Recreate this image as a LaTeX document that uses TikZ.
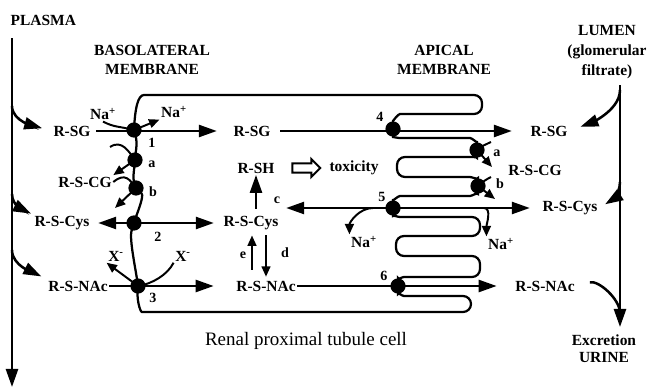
\documentclass[tikz,border=0pt]{standalone}
\usepackage{fontspec}
\setmainfont{Liberation Serif}
\usetikzlibrary{arrows.meta, shapes.arrows, calc}

\begin{document}
\begin{tikzpicture}[x=0.025cm, y=-0.025cm,
    lbl/.style={font=\bfseries\fontsize{11}{14}\selectfont, inner sep=1pt, align=center},
    tag/.style={font=\bfseries\fontsize{10}{12}\selectfont, inner sep=0pt},
    flow/.style={line width=1.8pt, -{Triangle[length=4.5mm, width=3mm]}},
    twoway/.style={line width=1.8pt, {Triangle[length=4.5mm, width=3mm]}-{Triangle[length=4.5mm, width=3mm]}},
    smallflow/.style={line width=1.4pt, -{Triangle[length=2.6mm, width=2.2mm]}},
    wire/.style={line width=1.4pt},
    membrane/.style={line width=1.6pt, rounded corners=2mm},
    pump/.style={fill=black}]

    \useasboundingbox (0,0) rectangle (647,388);

    % ==========================================
    % TRANSPORTER POSITIONS
    % ==========================================

    % basolateral side
    \coordinate (B1) at (134,130);
    \coordinate (Ba) at (135,160);
    \coordinate (Bb) at (136,188);
    \coordinate (B2) at (134,223);
    \coordinate (B3) at (138,286);

    % apical side
    \coordinate (A4) at (393,129);
    \coordinate (Aa) at (477,150);
    \coordinate (Ab) at (478,186);
    \coordinate (A5) at (393,208);
    \coordinate (A6) at (398,286);

    % plasma and lumen lines
    \coordinate (plTop) at (12,38);
    \coordinate (plEnd) at (12,387);
    \coordinate (pl1) at (12,106);
    \coordinate (pl2) at (12,194);
    \coordinate (pl3) at (12,250);
    \coordinate (lmTop) at (620,85);
    \coordinate (lmEnd) at (620,327);
    \coordinate (lm1) at (620,90);
    \coordinate (lm2) at (620,182);
    \coordinate (lm3) at (620,313);

    % ==========================================
    % LABELS
    % ==========================================

    \node[lbl, anchor=west] (plasma) at (9,20) {PLASMA};
    \node[lbl] (baso) at (152,60) {BASOLATERAL\\MEMBRANE};
    \node[lbl] (apical) at (444,60) {APICAL\\MEMBRANE};
    \node[lbl] (lumen) at (607,52) {LUMEN\\(glomerular\\filtrate)};

    % left column
    \node[lbl] (sgL) at (72,131) {R-SG};
    \node[lbl] (cgL) at (85,182) {R-S-CG};
    \node[lbl] (cysL) at (62,223) {R-S-Cys};
    \node[lbl] (nacL) at (78,286) {R-S-NAc};

    % middle column
    \node[lbl] (sgM) at (252,131) {R-SG};
    \node[lbl] (shM) at (256,168) {R-SH};
    \node[lbl] (cysM) at (251,223) {R-S-Cys};
    \node[lbl] (nacM) at (266,286) {R-S-NAc};
    \node[single arrow, draw, line width=1.4pt, minimum height=7mm,
          inner sep=0.9mm, single arrow head extend=1.1mm] (toxArrow) at (304,168) {};
    \node[lbl] (tox) at (354,168) {toxicity};

    % right column
    \node[lbl] (sgR) at (549,131) {R-SG};
    \node[lbl] (cgR) at (535,170) {R-S-CG};
    \node[lbl] (cysR) at (570,208) {R-S-Cys};
    \node[lbl] (nacR) at (545,286) {R-S-NAc};

    \node[lbl, font=\bfseries\fontsize{11}{12}\selectfont] (excr) at (604,349) {Excretion\\URINE};
    \node[font=\fontsize{13.5}{16}\selectfont] (cell) at (306,341) {Renal proximal tubule cell};

    % ions
    \node[lbl] (naL) at (103,114) {Na\textsuperscript{+}};
    \node[lbl] (naR) at (174,112) {Na\textsuperscript{+}};
    \node[lbl] (naM) at (364,242) {Na\textsuperscript{+}};
    \node[lbl] (naA) at (501,244) {Na\textsuperscript{+}};
    \node[lbl] (xL) at (116,256) {X\textsuperscript{-}};
    \node[lbl] (xR) at (183,256) {X\textsuperscript{-}};

    % step numbers and enzymes
    \node[tag] (n1) at (152,143) {1};
    \node[tag] (n2) at (158,237) {2};
    \node[tag] (n3) at (153,298) {3};
    \node[tag] (n4) at (380,117) {4};
    \node[tag] (n5) at (382,197) {5};
    \node[tag] (n6) at (384,276) {6};
    \node[tag] (la) at (152,164) {a};
    \node[tag] (lb) at (153,192) {b};
    \node[tag] (ra) at (497,153) {a};
    \node[tag] (rb) at (500,184) {b};
    \node[tag] (lc) at (277,200) {c};
    \node[tag] (ld) at (285,253) {d};
    \node[tag] (le) at (243,255) {e};

    % ==========================================
    % CELL OUTLINE
    % ==========================================

    \draw[membrane] (B1) .. controls +(1,-22) and +(-14,0) .. (152,95)
        -- (482,95) -- (482,114) -- (408,114)
        .. controls +(-10,0) and +(0,-8) .. (A4)
        .. controls +(0,8) and +(-10,0) .. (408,138)
        -- (462,138)
        .. controls +(10,0) and +(0,-7) .. (Aa)
        .. controls +(0,7) and +(10,0) .. (462,157)
        -- (397,157) -- (397,177) -- (462,177)
        .. controls +(10,0) and +(0,-6) .. (Ab)
        .. controls +(0,6) and +(10,0) .. (462,196)
        -- (408,196)
        .. controls +(-10,0) and +(0,-7) .. (A5)
        .. controls +(0,7) and +(-10,0) .. (408,217)
        -- (480,217) -- (480,236) -- (396,236) -- (396,256)
        -- (480,256) -- (480,277) -- (412,277)
        .. controls +(-10,0) and +(0,-6) .. (A6)
        .. controls +(0,6) and +(-10,0) .. (412,296)
        -- (471,296) -- (471,312) -- (150,312)
        .. controls +(-10,0) and +(-2,12) .. (B3);

    \draw[membrane] (B1) .. controls +(4,10) and +(1,-10) .. (Ba)
        .. controls +(-1,10) and +(-3,-10) .. (Bb)
        .. controls +(8,8) and +(4,-12) .. (B2)
        .. controls +(-5,16) and +(-2,-16) .. (B3);

    % ==========================================
    % PLASMA AND LUMEN
    % ==========================================

    \draw[flow] (plTop) -- (plEnd);
    \draw[flow, shorten >=2.5mm] (pl1) .. controls +(0,16) and +(-14,-4) .. (sgL.west);
    \draw[flow, shorten >=0.5mm] (pl2) .. controls +(0,12) and +(-8,-4) .. (cysL.north west);
    \draw[flow, shorten >=1.5mm] (pl3) .. controls +(0,16) and +(-12,-6) .. (nacL.north west);

    \draw[flow] (lmTop) -- (lmEnd);
    \draw[flow, shorten >=3mm] (lm1) .. controls +(0,22) and +(16,-6) .. (sgR.east);
    \draw[flow, shorten >=1.75mm] (lm2) .. controls +(0,14) and +(8,-5) .. (cysR.east);
    \draw[wire, line width=1.8pt, shorten <=3.5mm] (nacR.east) .. controls +(22,-6) and +(0,-14) .. (lm3);

    % ==========================================
    % TRANSPORT ACROSS THE CELL
    % ==========================================

    \draw[flow, shorten <=1mm, shorten >=3.75mm] (sgL.east) -- (sgM.west);
    \draw[twoway, shorten <=1.75mm, shorten >=2mm] (cysL.east) -- (cysM.west);
    \draw[flow, shorten >=5.25mm] (nacL.east) -- (nacM.west);

    \draw[flow, shorten <=2mm, shorten >=4.25mm] (sgM.east) -- (sgR.west);
    \draw[flow, shorten >=1.5mm] (A5) -- (cysM.east |- A5);
    \draw[flow, shorten >=2.75mm] (A5) -- (cysR.west);
    \draw[flow, shorten >=4.25mm] (nacM.east) -- (nacR.west);

    % reactions inside the cell
    \draw[flow, shorten <=1.5mm] (cysM.north -| shM) -- (shM.south);
    \draw[smallflow, shorten <=2.4mm, shorten >=1mm]
        ([xshift=-3.5mm]nacM.north) -- ([xshift=-3.5mm]nacM.north |- cysM.south);
    \draw[smallflow, shorten <=1mm, shorten >=0.6mm]
        (cysM.south -| nacM.north) -- (nacM.north);

    % ==========================================
    % SIDE BRANCHES AT THE TRANSPORTERS
    % ==========================================

    % basolateral
    \draw[wire] (naL.south) .. controls +(12,6) and +(-16,-4) .. (B1);
    \draw[smallflow] (B1) -- (naR.south west);
    \draw[wire] (110,147) .. controls +(12,-8) and +(-6,-8) .. (Ba);
    \draw[smallflow] (Ba) -- (cgL.north east);
    \draw[wire] (cgL.east) .. controls +(12,-10) and +(-6,-8) .. (Bb);
    \draw[smallflow] (Bb) -- (115,208);
    \draw[smallflow] (B3) -- (xL.south west);
    \draw[wire] (xR.south west) .. controls +(-6,12) and +(14,-2) .. (B3);

    % apical
    \draw[wire] (491,142) .. controls +(-4,2) and +(4,-4) .. (Aa);
    \draw[smallflow] (Aa) -- (492,167);
    \draw[wire] (491,177) .. controls +(-4,2) and +(4,-4) .. (Ab);
    \draw[smallflow] (Ab) -- (495,199);
    \draw[smallflow] (373,208) .. controls +(-14,0) and +(0,-12) .. (naM.north west);
    \draw[smallflow] (484,208) .. controls +(8,0) and +(0,-12) .. (naA.north west);

    % transporters
    \foreach \p in {B1,Ba,Bb,B2,B3,A4,Aa,Ab,A5,A6}
        \fill[pump] (\p) circle (1.9mm);

\end{tikzpicture}
\end{document}
